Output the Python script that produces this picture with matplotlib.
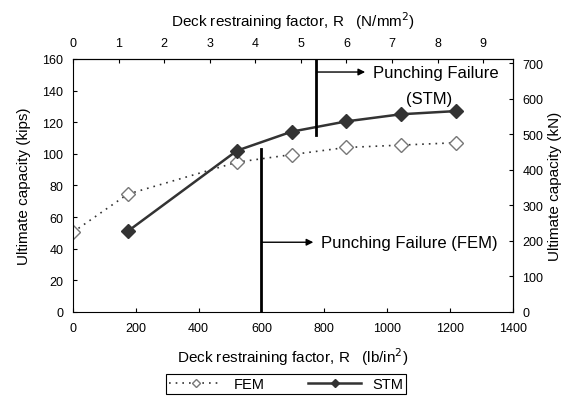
import numpy as np
import matplotlib
matplotlib.use('Agg')
import matplotlib.pyplot as plt

plt.rcParams.update({
    'font.family': ['Liberation Sans', 'DejaVu Sans'],
    'font.size': 11,
    'xtick.labelsize': 9,
    'ytick.labelsize': 9,
})

PSI_PER_MPA = 145.04
KN_PER_KIP = 4.448

# data (x in lb/in^2, y in kips)
fem_x = [0, 174, 522, 696, 870, 1044, 1218]
fem_y = [50.5, 74.5, 94.7, 99.5, 104, 105.5, 107]
stm_x = [174, 522, 696, 870, 1044, 1218]
stm_y = [51, 102, 114, 120.5, 125, 127]

fem_fail_x = 600
stm_fail_x = 775

fig = plt.figure(figsize=(5.66, 4.02), dpi=100)
ax = fig.add_axes([0.129, 0.2214, 0.777, 0.6296])

ax.plot(fem_x, fem_y, linestyle=(0, (1, 3)), color='#333333', lw=1.2,
        marker='D', markersize=7, markerfacecolor='white',
        markeredgecolor='#777777', markeredgewidth=1.0, label='FEM')
ax.plot(stm_x, stm_y, '-', color='#333333', lw=1.8,
        marker='D', markersize=7, markerfacecolor='#333333',
        markeredgecolor='#333333', label='STM')

# failure lines
ax.plot([fem_fail_x, fem_fail_x], [0, 103], color='black', lw=2)
ax.plot([stm_fail_x, stm_fail_x], [112, 160], color='black', lw=2)

arrow = dict(arrowstyle='-|>', color='black', lw=1, mutation_scale=10,
             shrinkA=0, shrinkB=0)
ax.annotate('', xy=(930, 151.7), xytext=(stm_fail_x, 151.7), arrowprops=arrow)
ax.text(954, 151.7, 'Punching Failure', va='center', ha='left', fontsize=12)
ax.text(1135, 135, '(STM)', va='center', ha='center', fontsize=12)
ax.annotate('', xy=(765, 44.1), xytext=(fem_fail_x, 44.1), arrowprops=arrow)
ax.text(791, 44.1, 'Punching Failure (FEM)', va='center', ha='left', fontsize=12)

ax.set_xlim(0, 1400)
ax.set_ylim(0, 160)
ax.set_xticks(np.arange(0, 1401, 200))
ax.set_yticks(np.arange(0, 161, 20))
ax.tick_params(direction='in', length=3, pad=7)
ax.set_xlabel('Deck restraining factor, R   (lb/in$^2$)', labelpad=8)
ax.set_ylabel('Ultimate capacity (kips)', labelpad=8)

top = ax.secondary_xaxis('top', functions=(lambda x: x / PSI_PER_MPA,
                                           lambda x: x * PSI_PER_MPA))
top.set_xticks(np.arange(0, 10, 1))
top.tick_params(direction='in', length=3, pad=7)
top.set_xlabel('Deck restraining factor, R   (N/mm$^2$)', labelpad=8)

right = ax.secondary_yaxis('right', functions=(lambda y: y * KN_PER_KIP,
                                               lambda y: y / KN_PER_KIP))
right.set_yticks(np.arange(0, 701, 100))
right.tick_params(direction='in', length=3, pad=7)
right.set_ylabel('Ultimate capacity (kN)', labelpad=3)

leg = fig.legend(loc='lower center', bbox_to_anchor=(0.506, 0.0), ncol=2,
                 fancybox=False, edgecolor='black', framealpha=1,
                 handlelength=3.6, columnspacing=3, borderpad=0.2,
                 markerscale=0.65, fontsize=10.5)
leg.get_frame().set_linewidth(0.8)

plt.savefig('out.png', dpi=100)
